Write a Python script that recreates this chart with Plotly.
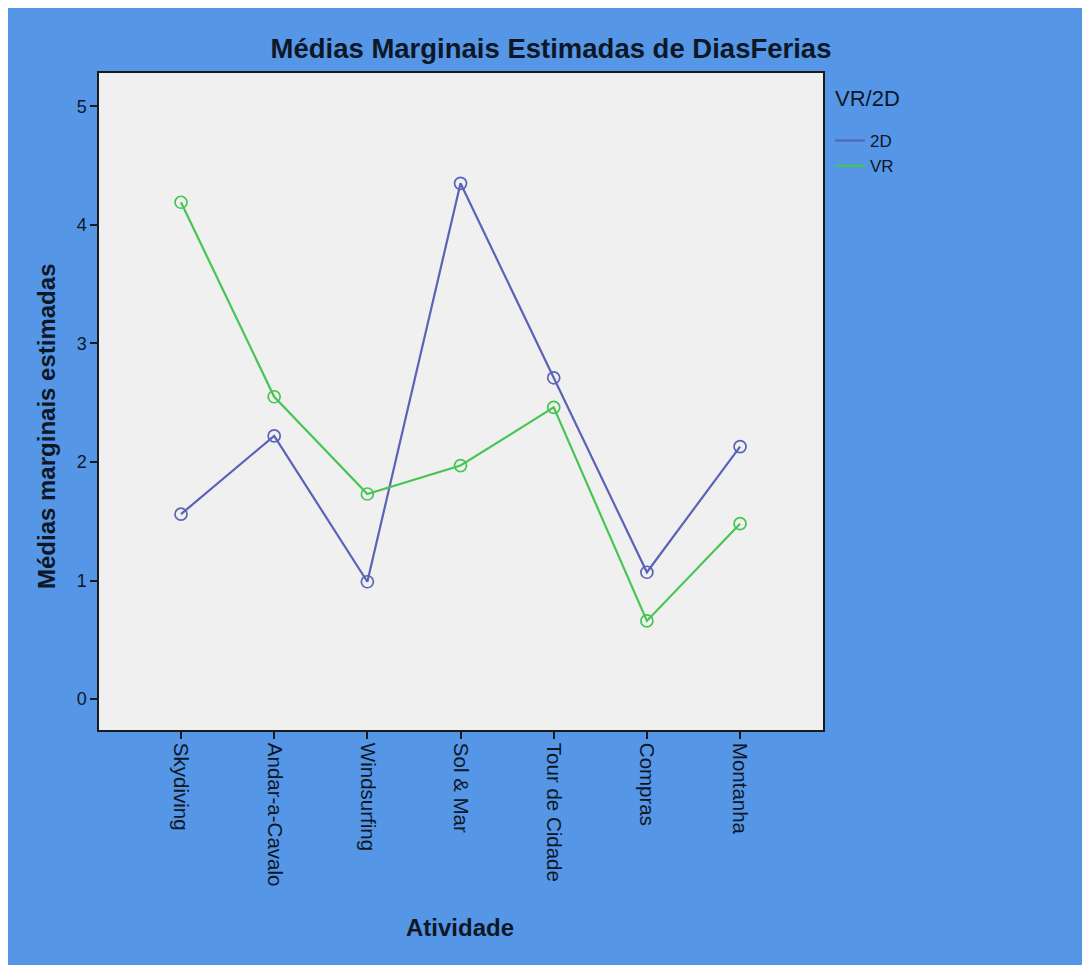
import plotly.graph_objects as go

categorias = ["Skydiving", "Andar-a-Cavalo", "Windsurfing", "Sol & Mar", "Tour de Cidade", "Compras", "Montanha"]
valores_2d = [1.56, 2.22, 0.99, 4.35, 2.71, 1.07, 2.13]
valores_vr = [4.19, 2.55, 1.73, 1.97, 2.46, 0.66, 1.48]
y_ticks = [0, 1, 2, 3, 4, 5]

# page has an 8px body margin; figure coordinates = screenshot coordinates - 8
OFF = 8
W, H = 1090 - OFF, 965 - OFF
L, R, T, B = 99 - OFF, 823 - OFF, 73 - OFF, 730 - OFF
pw, ph = R - L, B - T

def px2x(px):
    return (px - OFF - L) / pw

def py2y(py):
    return (B - (py - OFF)) / ph

BLUE = "#5596E6"
TXT = "#0e1726"
FONT = "Liberation Sans, Arial, sans-serif"
C2D = "#5a63b5"
CVR = "#47c553"

fig = go.Figure()
series = [("2D", valores_2d, C2D), ("VR", valores_vr, CVR)]
for nome, vals, cor in series:
    fig.add_trace(go.Scatter(
        x=categorias, y=vals, name=nome, mode="lines", legendgroup=nome,
        line=dict(color=cor, width=2.2), showlegend=True,
    ))
for nome, vals, cor in series:
    fig.add_trace(go.Scatter(
        x=categorias, y=vals, name=nome, mode="markers", legendgroup=nome,
        marker=dict(symbol="circle-open", size=12, color=cor, line=dict(width=1.7)),
        showlegend=False,
    ))

fig.update_layout(
    width=W, height=H,
    margin=dict(l=L, r=W - R, t=T, b=H - B, pad=0),
    paper_bgcolor=BLUE,
    plot_bgcolor="#F0F0F0",
    font=dict(family=FONT, color=TXT),
    showlegend=True,
    legend=dict(
        x=px2x(830), y=py2y(123), xanchor="left", yanchor="top",
        bgcolor="rgba(0,0,0,0)", font=dict(size=17, color=TXT),
        itemwidth=30, tracegroupgap=0,
    ),
    title=dict(
        text="<b>Médias Marginais Estimadas de DiasFerias</b>",
        x=(551 - OFF) / W, xanchor="center",
        y=1 - (48 - OFF) / H, yanchor="middle",
        font=dict(size=27.5, color=TXT),
    ),
    annotations=[
        dict(text="VR/2D", xref="paper", yref="paper",
             x=px2x(833), y=py2y(98), showarrow=False,
             xanchor="left", yanchor="middle", font=dict(size=22, color=TXT)),
        dict(text="<b>Médias marginais estimadas</b>", xref="paper", yref="paper",
             x=px2x(46), y=py2y(427), textangle=-90, showarrow=False,
             xanchor="center", yanchor="middle", font=dict(size=24, color=TXT)),
        dict(text="<b>Atividade</b>", xref="paper", yref="paper",
             x=px2x(460), y=py2y(927), showarrow=False,
             xanchor="center", yanchor="middle", font=dict(size=24, color=TXT)),
    ],
)

fig.update_xaxes(
    type="category", categoryorder="array", categoryarray=categorias,
    range=[-0.88, 6.89], showgrid=False, zeroline=False,
    showline=True, linecolor="#1a1a1a", linewidth=1.5, mirror=True,
    ticks="outside", ticklen=7, tickwidth=1.5, tickcolor="#1a1a1a",
    tickangle=90, tickfont=dict(size=20.5, color=TXT),
)
fig.update_yaxes(
    range=[-0.26, 5.28], tickvals=y_ticks, ticktext=[str(v) for v in y_ticks],
    showgrid=False, zeroline=False,
    showline=True, linecolor="#1a1a1a", linewidth=1.5, mirror=True,
    ticks="outside", ticklen=7, tickwidth=1.5, tickcolor="#1a1a1a",
    tickfont=dict(size=18, color=TXT),
)

fig.write_html("out.html")
